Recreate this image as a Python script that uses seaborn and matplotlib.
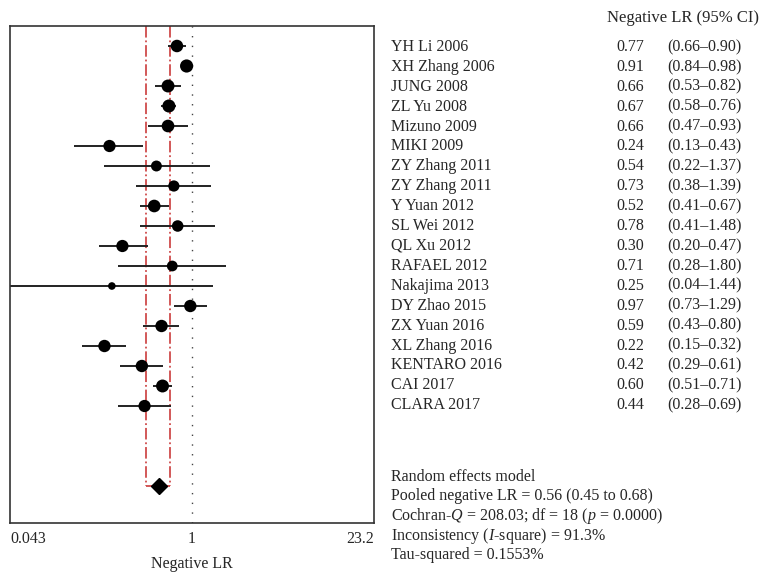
import numpy as np
import pandas as pd
import matplotlib
matplotlib.use("Agg")
import matplotlib.pyplot as plt
import seaborn as sns

studies = ["YH Li 2006", "XH Zhang 2006", "JUNG 2008", "ZL Yu 2008", "Mizuno 2009",
           "MIKI 2009", "ZY Zhang 2011", "ZY Zhang 2011", "Y Yuan 2012", "SL Wei 2012",
           "QL Xu 2012", "RAFAEL 2012", "Nakajima 2013", "DY Zhao 2015", "ZX Yuan 2016",
           "XL Zhang 2016", "KENTARO 2016", "CAI 2017", "CLARA 2017"]
nlr = [0.77, 0.91, 0.66, 0.67, 0.66, 0.24, 0.54, 0.73, 0.52, 0.78,
       0.30, 0.71, 0.25, 0.97, 0.59, 0.22, 0.42, 0.60, 0.44]
ci_low = [0.66, 0.84, 0.53, 0.58, 0.47, 0.13, 0.22, 0.38, 0.41, 0.41,
          0.20, 0.28, 0.04, 0.73, 0.43, 0.15, 0.29, 0.51, 0.28]
ci_high = [0.90, 0.98, 0.82, 0.76, 0.93, 0.43, 1.37, 1.39, 0.67, 1.48,
           0.47, 1.80, 1.44, 1.29, 0.80, 0.32, 0.61, 0.71, 0.69]
weights = [5.5, 6.0, 5.8, 5.9, 5.6, 5.3, 4.4, 4.6, 5.6, 4.8,
           5.3, 4.3, 2.6, 5.4, 5.4, 5.4, 5.4, 5.8, 5.3]
pooled = 0.56
pooled_ci = (0.45, 0.68)
x_ticks = [0.043, 1, 23.2]
x_tick_labels = ["0.043", "1", "23.2"]
summary_lines = ["Random effects model",
                 "Pooled negative LR = 0.56 (0.45 to 0.68)",
                 "Cochran-$Q$ = 208.03; df = 18 ($p$ = 0.0000)",
                 "Inconsistency ($I$-square) = 91.3%",
                 "Tau-squared = 0.1553%"]

df = pd.DataFrame({"study": studies, "nlr": nlr, "lo": ci_low, "hi": ci_high,
                   "w": weights, "row": np.arange(len(studies))})

sns.set_theme(style="white")
plt.rcParams["font.family"] = ["Liberation Serif", "DejaVu Serif"]
plt.rcParams["mathtext.fontset"] = "custom"
plt.rcParams["mathtext.it"] = "Liberation Serif:italic"
plt.rcParams["mathtext.rm"] = "Liberation Serif"

fig = plt.figure(figsize=(7.6, 5.81), dpi=100)
ax = fig.add_axes([10/760, 58/581, 364/760, 497/581])

ax.set_xscale("log")
ax.set_xlim(0.043, 23.2)
ax.set_ylim(23.85, -1.0)

# reference line at 1
ax.axvline(1, color="#444444", lw=1.0, ls=(0, (1, 6)), zorder=1)

# pooled CI red dash-dot box
red = "#cf4b4b"
diamond_row = 22
ax.plot([pooled_ci[0], pooled_ci[0]], [-1.0, diamond_row], color=red, lw=1.3, ls="-.", zorder=1)
ax.plot([pooled_ci[1], pooled_ci[1]], [-1.0, diamond_row], color=red, lw=1.3, ls="-.", zorder=1)
ax.plot([pooled_ci[0], pooled_ci[1]], [diamond_row, diamond_row], color=red, lw=1.3, ls="-.", zorder=1)

# CIs
ax.hlines(df["row"], df["lo"], df["hi"], color="#222222", lw=1.4, zorder=2)
sns.scatterplot(data=df, x="nlr", y="row", size="w", sizes=(30, 90), color="black",
                edgecolor="black", linewidth=0, legend=False, ax=ax, zorder=3)
ax.plot([pooled], [diamond_row], marker="D", color="black", markersize=8, zorder=4, ls="none")

ax.set_yticks([])
ax.set_xticks(x_ticks)
ax.set_xticklabels(x_tick_labels, fontsize=11.5)
ax.xaxis.set_minor_locator(matplotlib.ticker.NullLocator())
ax.tick_params(axis="x", length=0, pad=6)
labs = ax.get_xticklabels()
labs[0].set_ha("left")
labs[2].set_ha("right")
ax.set_xlabel("Negative LR", fontsize=11.5, labelpad=6)
ax.set_ylabel("")
for s in ax.spines.values():
    s.set_color("#333333")
    s.set_linewidth(1.2)

# text table
fs = 11.5
fig.text(607/760, 1 - 18/581, "Negative LR (95% CI)", fontsize=12, va="center", ha="left")
for i, (s, v, lo, hi) in enumerate(zip(studies, nlr, ci_low, ci_high)):
    y = 1 - (47 + 19.9 * i) / 581
    fig.text(391/760, y, s, fontsize=fs, va="center", ha="left")
    fig.text(644/760, y, f"{v:.2f}", fontsize=fs, va="center", ha="right")
    fig.text(667/760, y, f"({lo:.2f}\u2013{hi:.2f})", fontsize=fs, va="center", ha="left")

for j, t in enumerate(summary_lines):
    y = 1 - (477 + 19.5 * j) / 581
    fig.text(391/760, y, t, fontsize=fs, va="center", ha="left")

fig.savefig("out.png", dpi=100)
